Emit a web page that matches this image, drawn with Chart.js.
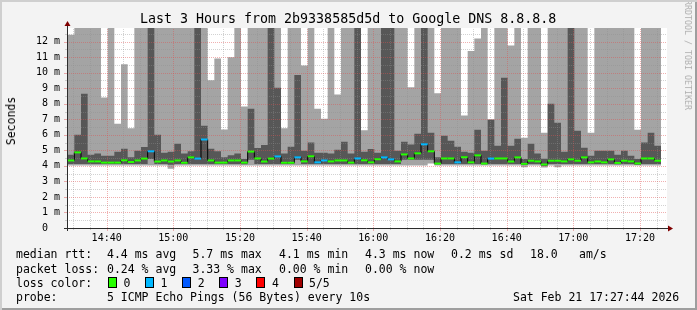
<!DOCTYPE html>
<html>
<head>
<meta charset="utf-8">
<script src="https://cdn.jsdelivr.net/npm/chart.js@4.4.1/dist/chart.umd.min.js"></script>
<style>
  html, body { margin: 0; padding: 0; background: #f3f3f3; }
  #wrap { position: relative; width: 697px; height: 310px; overflow: hidden; background: #f3f3f3; }
  #c { position: absolute; left: 0; top: 0; }
  .t { position: absolute; white-space: pre; font-family: "DejaVu Sans Mono", monospace; color: #000; }
  .box { position: absolute; box-sizing: border-box; border: 1px solid #000; }
  #frame { position: absolute; inset: 0; pointer-events: none;
           box-shadow: inset 2px 2px 0 #cfcfcf, inset -2px -2px 0 #9e9e9e; }
</style>
</head>
<body>
<div id="wrap">
  <canvas id="c" width="697" height="310"></canvas>
  <div id="frame"></div>
</div>
<script>
// --- time axis (minutes after 14:00) ---
const T_START = 28.1;        // left edge of the graph
const T_END = 208.1;         // right edge of the graph
const FIRST_STEP_END = 30.3; // end of the first 2-minute step
const STEP_MIN = 2;

const X_TICKS = [40, 60, 80, 100, 120, 140, 160, 180, 200];
const X_LABELS = ["14:40", "15:00", "15:20", "15:40", "16:00", "16:20", "16:40", "17:00", "17:20"];
const Y_TICKS = [0, 1, 2, 3, 4, 5, 6, 7, 8, 9, 10, 11, 12];
const Y_MAX = 12.88;

// --- smoke: sorted ping rtt per step, in ms (14 = off the top of the graph) ---
const rttMin = [
  4.02, 4.02, 4.02, 4.02, 4.02, 4.02, 4.02, 4.02, 4.02, 4.02,
  4.02, 4.02, 4.02, 4.02, 4.02, 3.82, 4.02, 4.02, 4.02, 4.02,
  4.02, 4.02, 4.02, 4.02, 4.02, 4.02, 4.02, 4.02, 4.02, 4.02,
  4.02, 4.02, 4.02, 4.02, 4.02, 4.02, 4.02, 4.02, 4.02, 4.02,
  4.02, 4.02, 4.02, 4.02, 4.02, 4.02, 4.02, 4.02, 4.02, 4.02,
  4.02, 4.02, 4.02, 4.02, 4.15, 4.02, 4.02, 4.02, 4.02, 4.02,
  4.02, 4.02, 4.02, 4.02, 4.02, 4.02, 4.02, 4.02, 3.92, 4.02,
  4.02, 3.9, 4.02, 3.92, 4.02, 4.02, 4.02, 4.02, 4.02, 4.02,
  4.02, 4.02, 4.02, 4.02, 4.02, 4.02, 4.02, 4.02, 4.02
];
const rttLo = [
  4.12, 4.12, 4.12, 4.12, 4.12, 4.12, 4.12, 4.12, 4.12, 4.12,
  4.12, 4.12, 4.45, 4.12, 4.12, 4.08, 4.12, 4.12, 4.12, 4.12,
  4.12, 4.12, 4.12, 4.12, 4.12, 4.12, 4.1, 4.4, 4.12, 4.12,
  4.12, 4.12, 4.12, 4.12, 4.4, 4.12, 4.12, 4.12, 4.12, 4.12,
  4.12, 4.12, 4.12, 4.12, 4.12, 4.12, 4.12, 4.12, 4.12, 4.12,
  4.4, 4.4, 4.4, 4.4, 4.4, 4.1, 4.12, 4.12, 4.12, 4.12,
  4.12, 4.12, 4.1, 4.12, 4.12, 4.12, 4.12, 4.12, 4.05, 4.12,
  4.12, 4.0, 4.12, 4.12, 4.12, 4.12, 4.12, 4.12, 4.12, 4.12,
  4.12, 4.12, 4.1, 4.12, 4.12, 4.08, 4.12, 4.12, 4.12
];
const rttHi = [
  4.72, 6.0, 8.65, 4.72, 4.79, 4.66, 4.66, 4.91, 5.11, 4.55,
  4.98, 5.21, 14, 6.0, 4.85, 4.91, 5.43, 4.79, 4.94, 14,
  6.59, 5.11, 4.94, 4.55, 4.68, 4.79, 4.45, 7.68, 5.15, 5.34,
  14, 9.03, 4.79, 5.24, 9.85, 4.98, 5.5, 4.85, 4.85, 4.79,
  5.04, 5.56, 4.79, 14, 4.91, 5.09, 4.85, 14, 14, 4.98,
  5.56, 5.37, 6.07, 14, 6.14, 4.55, 5.94, 5.62, 5.24, 4.91,
  4.85, 6.33, 4.98, 6.97, 5.3, 9.68, 5.3, 5.75, 4.45, 5.43,
  4.79, 4.46, 8.0, 6.78, 4.91, 14, 6.27, 5.17, 4.66, 4.98,
  4.98, 4.98, 4.72, 4.98, 4.66, 4.45, 5.5, 6.14, 5.3
];
const rttMax = [
  12.45, 14, 14, 14, 14, 8.41, 14, 6.72, 10.54, 6.42,
  14, 14, 14, 14, 14, 14, 14, 14, 14, 14,
  14, 9.51, 10.92, 6.35, 10.99, 14, 7.83, 14, 14, 14,
  14, 14, 6.42, 14, 14, 10.47, 14, 7.68, 7.04, 14,
  8.6, 14, 14, 14, 6.29, 14, 14, 14, 14, 14,
  14, 9.06, 14, 14, 14, 8.67, 14, 14, 14, 7.25,
  11.4, 12.21, 14, 7.0, 14, 14, 11.76, 14, 5.82, 14,
  14, 6.14, 14, 14, 14, 14, 14, 14, 6.14, 14,
  14, 14, 14, 14, 14, 6.33, 14, 14, 14
];

// --- median rtt (ms) and lost pings per step ---
const median = [
  4.35, 4.87, 4.48, 4.29, 4.29, 4.21, 4.21, 4.21, 4.36, 4.25,
  4.35, 4.47, 4.94, 4.28, 4.35, 4.28, 4.35, 4.2, 4.55, 4.47,
  5.7, 4.35, 4.21, 4.21, 4.35, 4.35, 4.21, 4.92, 4.48, 4.28,
  4.47, 4.61, 4.2, 4.2, 4.55, 4.29, 4.62, 4.23, 4.35, 4.29,
  4.35, 4.35, 4.21, 4.48, 4.36, 4.23, 4.43, 4.55, 4.42, 4.29,
  4.74, 4.48, 4.81, 5.39, 4.94, 4.15, 4.48, 4.48, 4.23, 4.56,
  4.23, 4.68, 4.15, 4.47, 4.48, 4.48, 4.28, 4.55, 4.13, 4.33,
  4.29, 4.09, 4.33, 4.33, 4.29, 4.42, 4.33, 4.55, 4.23, 4.29,
  4.23, 4.42, 4.19, 4.33, 4.29, 4.16, 4.48, 4.48, 4.33
];
const medLoss = [
  0, 0, 0, 0, 0, 0, 0, 0, 0, 0,
  0, 0, 1, 0, 0, 0, 0, 0, 0, 1,
  1, 0, 0, 0, 0, 0, 0, 0, 0, 0,
  0, 1, 0, 0, 1, 0, 0, 1, 1, 0,
  0, 0, 0, 1, 0, 0, 0, 1, 1, 0,
  0, 0, 0, 1, 0, 0, 0, 0, 1, 0,
  0, 0, 0, 1, 0, 0, 0, 0, 0, 0,
  0, 0, 0, 0, 0, 0, 0, 0, 0, 0,
  0, 0, 0, 0, 0, 0, 0, 0, 0
];

const LOSS_COLORS = ["#26ff00", "#00b8ff", "#0059ff", "#7e00ff", "#ff0000", "#a00000"];
const LOSS_NAMES = ["0", "1", "2", "3", "4", "5/5"];

// --- legend texts ---
const TITLE = "Last 3 Hours from 2b9338585d5d to Google DNS 8.8.8.8";
const RTT_STATS = ["4.4 ms avg", "5.7 ms max", "4.1 ms min", "4.3 ms now", "0.2 ms sd", "18.0", "am/s"];
const LOSS_STATS = ["0.24 % avg", "3.33 % max", "0.00 % min", "0.00 % now"];
const PROBE = "5 ICMP Echo Pings (56 Bytes) every 10s";
const STAMP = "Sat Feb 21 17:27:44 2026";

const GRID = "rgba(143,143,143,0.4)";
const MGRID = "rgba(222,80,80,0.45)";
const AXIS = "#2c2c2c";
const ARROW = "#800000";
const FONT = "DejaVu Sans Mono";

// step k covers [stepStart(k), stepEnd(k)]
const stepStart = (k) => (k === 0 ? T_START : FIRST_STEP_END + STEP_MIN * (k - 1));
const stepEnd = (k) => FIRST_STEP_END + STEP_MIN * k;

function stepPoints(values) {
  const pts = values.map((v, k) => ({ x: stepStart(k), y: v }));
  pts.push({ x: stepEnd(values.length - 1), y: values[values.length - 1] });
  return pts;
}

// one short horizontal piece per step, broken by nulls
function medianPieces() {
  const pts = [];
  median.forEach((v, k) => {
    pts.push({ x: stepStart(k), y: v, loss: medLoss[k] });
    pts.push({ x: stepEnd(k), y: v, loss: medLoss[k] });
    pts.push({ x: stepEnd(k), y: null });
  });
  return pts;
}
const medPts = medianPieces();

function area(data, fill, color, order) {
  return {
    data, fill, order,
    backgroundColor: color,
    borderColor: "transparent",
    borderWidth: 0,
    pointRadius: 0,
    stepped: true,
  };
}

function drawGrid(chart) {
  const { ctx, chartArea: a, scales: { x, y } } = chart;
  ctx.save();
  ctx.lineWidth = 1;
  ctx.setLineDash([1, 1]);
  for (let m = 30; m <= 205; m += 5) {
    const px = Math.round(x.getPixelForValue(m)) + 0.5;
    ctx.strokeStyle = X_TICKS.includes(m) ? MGRID : GRID;
    ctx.beginPath();
    ctx.moveTo(px, a.bottom);
    ctx.lineTo(px, a.top);
    ctx.stroke();
  }
  for (let v = 0.5; v < Y_MAX; v += 0.5) {
    const py = Math.round(y.getPixelForValue(v)) + 0.5;
    ctx.strokeStyle = Number.isInteger(v) ? MGRID : GRID;
    ctx.beginPath();
    ctx.moveTo(a.left, py);
    ctx.lineTo(a.right, py);
    ctx.stroke();
  }
  ctx.restore();
}

function drawAxes(chart) {
  const { ctx, chartArea: a, scales: { x, y } } = chart;
  ctx.save();
  ctx.lineWidth = 1;
  // tick marks outside the plot
  for (let m = 30; m <= 205; m += 5) {
    const px = Math.round(x.getPixelForValue(m)) + 0.5;
    const major = X_TICKS.includes(m);
    ctx.strokeStyle = major ? MGRID : GRID;
    ctx.beginPath();
    ctx.moveTo(px, a.bottom);
    ctx.lineTo(px, a.bottom + (major ? 3 : 2));
    ctx.stroke();
  }
  for (let v = 0.5; v < Y_MAX; v += 0.5) {
    const py = Math.round(y.getPixelForValue(v)) + 0.5;
    const major = Number.isInteger(v);
    ctx.strokeStyle = major ? MGRID : GRID;
    ctx.beginPath();
    ctx.moveTo(a.left, py);
    ctx.lineTo(a.left - (major ? 3 : 2), py);
    ctx.stroke();
  }
  // axis lines
  const bx = Math.round(a.left) + 0.5;
  const by = Math.round(a.bottom) + 0.5;
  ctx.strokeStyle = AXIS;
  ctx.beginPath();
  ctx.moveTo(a.left - 3, by);
  ctx.lineTo(a.right + 2, by);
  ctx.moveTo(bx, a.bottom + 3);
  ctx.lineTo(bx, a.top - 2);
  ctx.stroke();
  // arrows
  ctx.fillStyle = ARROW;
  ctx.beginPath();
  ctx.moveTo(a.right + 6, by);
  ctx.lineTo(a.right + 1, by - 3);
  ctx.lineTo(a.right + 1, by + 3);
  ctx.closePath();
  ctx.fill();
  ctx.beginPath();
  ctx.moveTo(bx, a.top - 7);
  ctx.lineTo(bx - 3, a.top - 2);
  ctx.lineTo(bx + 3, a.top - 2);
  ctx.closePath();
  ctx.fill();
  ctx.restore();
}

const rrdLook = {
  id: "rrdLook",
  beforeDraw(chart) {
    const { ctx, chartArea: a } = chart;
    ctx.save();
    ctx.fillStyle = "#ffffff";
    ctx.fillRect(a.left, a.top, a.right - a.left, a.bottom - a.top);
    ctx.restore();
  },
  afterDatasetDraw(chart, args) {
    if (args.index === 3) drawGrid(chart);
  },
  afterDatasetsDraw(chart) {
    drawAxes(chart);
  },
};

new Chart(document.getElementById("c"), {
  type: "line",
  data: {
    datasets: [
      area(stepPoints(rttMin), false, "transparent", 6),
      area(stepPoints(rttMax), "-1", "#a4a4a4", 5),
      area(stepPoints(rttLo), false, "transparent", 4),
      area(stepPoints(rttHi), "-1", "#575757", 3),
      {
        data: stepPoints(median),
        stepped: true,
        borderColor: "#000000",
        borderWidth: 1,
        pointRadius: 0,
        fill: false,
        order: 2,
      },
      {
        data: medPts,
        borderWidth: 2,
        borderCapStyle: "butt",
        pointRadius: 0,
        fill: false,
        spanGaps: false,
        order: 1,
        segment: {
          borderColor: (c) => LOSS_COLORS[medPts[c.p0DataIndex].loss || 0],
        },
      },
    ],
  },
  options: {
    responsive: false,
    devicePixelRatio: 1,
    animation: false,
    events: [],
    layout: { padding: { left: 0, top: 28, right: 30, bottom: 62 } },
    plugins: { legend: { display: false }, tooltip: { enabled: false } },
    scales: {
      x: {
        type: "linear",
        min: T_START,
        max: T_END,
        grid: { display: false, drawTicks: false },
        border: { display: false },
        afterFit: (s) => { s.height = 20; },
        afterBuildTicks: (s) => { s.ticks = X_TICKS.map((v) => ({ value: v })); },
        ticks: {
          padding: 4,
          maxRotation: 0,
          autoSkip: false,
          color: "#000",
          font: { family: FONT, size: 10 },
          callback: (v, i) => X_LABELS[i],
        },
      },
      y: {
        min: 0,
        max: Y_MAX,
        grid: { display: false, drawTicks: false },
        border: { display: false },
        afterFit: (s) => { s.width = 67; },
        afterBuildTicks: (s) => { s.ticks = Y_TICKS.map((v) => ({ value: v })); },
        ticks: {
          padding: 7,
          autoSkip: false,
          color: "#000",
          font: { family: FONT, size: 10 },
          callback: (v) => (v === 0 ? "0  " : `${v} m`),
        },
      },
    },
  },
  plugins: [rrdLook],
});

// --- texts around the graph ---
const wrap = document.getElementById("wrap");
function text(str, x, cy, size, extra) {
  const d = document.createElement("div");
  d.className = "t";
  d.textContent = str;
  const lh = Math.round(size * 1.2);
  d.style.fontSize = size + "px";
  d.style.lineHeight = lh + "px";
  d.style.left = x + "px";
  d.style.top = cy - lh / 2 + "px";
  Object.assign(d.style, extra || {});
  wrap.insertBefore(d, document.getElementById("frame"));
  return d;
}

text(TITLE, 140, 19, 13.3);
text("Seconds", 10.5, 128, 11.5, { transform: "translate(-50%, -50%) rotate(-90deg)" });
text("RRDTOOL / TOBI OETIKER", 688, 60, 8.3, {
  transform: "translate(-50%, -50%) rotate(90deg)", color: "#b0b0b0",
});

const COLS = [107, 192.5, 279, 365, 451, 530, 579];
text("median rtt:", 16, 254, 11.5);
RTT_STATS.forEach((s, i) => text(s, COLS[i], 254, 11.5));
text("packet loss:", 16, 268.5, 11.5);
LOSS_STATS.forEach((s, i) => text(s, COLS[i], 268.5, 11.5));

text("loss color:", 16, 283, 11.5);
LOSS_NAMES.forEach((name, i) => {
  const bx = 108 + i * 37.1;
  const b = document.createElement("div");
  b.className = "box";
  Object.assign(b.style, { left: bx + "px", top: "277px", width: "9px", height: "11px", background: LOSS_COLORS[i] });
  wrap.insertBefore(b, document.getElementById("frame"));
  text(name, bx + 15.5, 283, 11.5);
});

text("probe:", 16, 297, 11.5);
text(PROBE, 107, 297, 11.5);
text(STAMP, 513, 297, 11.5);
</script>
</body>
</html>
